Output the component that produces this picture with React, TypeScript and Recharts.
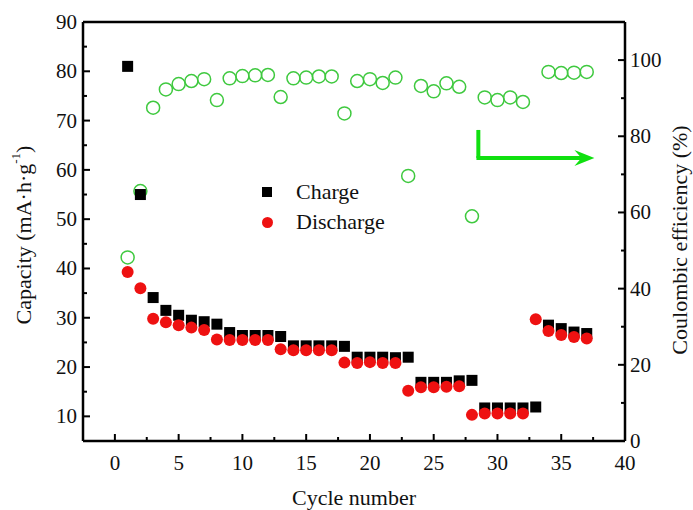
import React from 'react';
import {
  ScatterChart,
  Scatter,
  XAxis,
  YAxis,
  Label,
  ReferenceLine,
  ReferenceDot,
} from 'recharts';

const cycles = Array.from({ length: 37 }, (_, i) => i + 1);

const charge = [
  81, 55, 34.1, 31.5, 30.5, 29.5, 29.2, 28.7, 27, 26.4,
  26.4, 26.4, 26.2, 24.3, 24.3, 24.3, 24.3, 24.2, 22, 22,
  22, 21.9, 22, 16.9, 16.9, 16.9, 17.2, 17.3, 11.7, 11.7,
  11.7, 11.7, 11.9, 28.5, 27.8, 27.1, 26.8,
];

const discharge = [
  39.3, 36, 29.8, 29.1, 28.5, 28, 27.5, 25.6, 25.5, 25.5,
  25.5, 25.5, 23.6, 23.4, 23.4, 23.4, 23.4, 20.9, 20.8, 21,
  20.8, 20.8, 15.2, 15.9, 15.9, 16, 16.1, 10.3, 10.6, 10.6,
  10.6, 10.6, 29.7, 27.3, 26.5, 26.1, 25.8,
];

const efficiency: (number | null)[] = [
  48.2, 65.6, 87.5, 92.3, 93.7, 94.5, 95, 89.5, 95.2, 95.8,
  96, 96.1, 90.3, 95.2, 95.4, 95.7, 95.7, 86, 94.5, 95,
  94, 95.4, 69.6, 93.2, 91.8, 93.9, 93, 59, 90.2, 89.5,
  90.2, 89, null, 96.9, 96.6, 96.7, 96.9,
];

const xTicks = [0, 2.5, 5, 7.5, 10, 12.5, 15, 17.5, 20, 22.5, 25, 27.5, 30, 32.5, 35, 37.5, 40];
const leftTicks = [10, 15, 20, 25, 30, 35, 40, 45, 50, 55, 60, 65, 70, 75, 80, 85, 90];
const rightTicks = [0, 10, 20, 30, 40, 50, 60, 70, 80, 90, 100];

const chargeData = cycles.map((c, i) => ({ cycle: c, value: charge[i] }));
const dischargeData = cycles.map((c, i) => ({ cycle: c, value: discharge[i] }));
const efficiencyData = cycles
  .map((c, i) => ({ cycle: c, value: efficiency[i] }))
  .filter((d) => d.value !== null);

const FONT = "'Liberation Serif', 'Times New Roman', 'DejaVu Serif', serif";
const W = 693;
const H = 510;
const LEFT = 83;
const RIGHT = 625;
const TOP = 22;
const BOTTOM = 441;
const GREEN = '#3fc93f';
const ARROW = '#10e010';

const LeftTick = (props: any) => {
  const { y, payload } = props;
  const major = payload.value % 10 === 0;
  return (
    <g>
      <line x1={LEFT} x2={LEFT + (major ? 7 : 4)} y1={y} y2={y} stroke="#000" strokeWidth={2} />
      {major && (
        <text x={LEFT - 6} y={y} textAnchor="end" dominantBaseline="central" fontSize={21} fontFamily={FONT} fill="#111">
          {payload.value}
        </text>
      )}
    </g>
  );
};

const RightTick = (props: any) => {
  const { y, payload } = props;
  const major = payload.value % 20 === 0;
  return (
    <g>
      <line x1={RIGHT} x2={RIGHT - (major ? 7 : 4)} y1={y} y2={y} stroke="#000" strokeWidth={2} />
      {major && (
        <text x={RIGHT + 5} y={y} textAnchor="start" dominantBaseline="central" fontSize={21} fontFamily={FONT} fill="#111">
          {payload.value}
        </text>
      )}
    </g>
  );
};

const BottomTick = (props: any) => {
  const { x, payload } = props;
  const major = payload.value % 5 === 0;
  return (
    <g>
      <line x1={x} x2={x} y1={BOTTOM} y2={BOTTOM - (major ? 7 : 4)} stroke="#000" strokeWidth={2} />
      {major && (
        <text x={x} y={BOTTOM + 22} textAnchor="middle" dominantBaseline="central" fontSize={21} fontFamily={FONT} fill="#111">
          {payload.value}
        </text>
      )}
    </g>
  );
};

const SquareMark = (props: any) => (
  <rect x={props.cx - 5.5} y={props.cy - 5.5} width={11} height={11} fill="#000" />
);

const DotMark = (props: any) => <circle cx={props.cx} cy={props.cy} r={6} fill="#ee1111" />;

const RingMark = (props: any) => (
  <circle cx={props.cx} cy={props.cy} r={6.5} fill="none" stroke={GREEN} strokeWidth={1.5} />
);

const ArrowHead = (props: any) => {
  const { cx, cy } = props;
  return (
    <polygon
      points={`${cx},${cy} ${cx - 20},${cy - 8} ${cx - 13},${cy} ${cx - 20},${cy + 8}`}
      fill={ARROW}
    />
  );
};

const LegendBox = () => (
  <div
    style={{
      position: 'absolute',
      left: 262,
      top: 177,
      fontFamily: FONT,
      fontSize: 22,
      color: '#111',
      lineHeight: '30px',
    }}
  >
    <div style={{ display: 'flex', alignItems: 'center' }}>
      <span style={{ width: 10, height: 10, background: '#000', display: 'inline-block', marginRight: 24 }} />
      Charge
    </div>
    <div style={{ display: 'flex', alignItems: 'center' }}>
      <span style={{ width: 11, height: 11, borderRadius: '50%', background: '#ee1111', display: 'inline-block', marginRight: 23 }} />
      Discharge
    </div>
  </div>
);

export default function App() {
  return (
    <div style={{ position: 'absolute', left: 0, top: 0, width: W, height: H, background: '#fff' }}>
      <ScatterChart width={W} height={H} margin={{ top: TOP, right: 0, bottom: 0, left: 0 }}>
        <XAxis
          type="number"
          dataKey="cycle"
          domain={[-2.5, 40]}
          ticks={xTicks}
          interval={0}
          height={H - BOTTOM}
          axisLine={{ stroke: '#000', strokeWidth: 2.5 }}
          tickLine={false}
          tick={<BottomTick />}
          allowDataOverflow
        >
          <Label
            content={() => (
              <text x={(LEFT + RIGHT) / 2} y={497} textAnchor="middle" dominantBaseline="central" fontSize={22} fontFamily={FONT} fill="#111">
                Cycle number
              </text>
            )}
          />
        </XAxis>
        <YAxis
          yAxisId="cap"
          type="number"
          dataKey="value"
          domain={[5, 90]}
          ticks={leftTicks}
          interval={0}
          width={LEFT}
          axisLine={{ stroke: '#000', strokeWidth: 2.5 }}
          tickLine={false}
          tick={<LeftTick />}
          allowDataOverflow
        >
          <Label
            content={() => (
              <text
                x={23}
                y={235}
                transform="rotate(-90, 23, 235)"
                textAnchor="middle"
                dominantBaseline="central"
                fontSize={22}
                fontFamily={FONT}
                fill="#111"
              >
                Capacity (mA·h·g
                <tspan dy={-8} fontSize={13}>-1</tspan>
                <tspan dy={8}>)</tspan>
              </text>
            )}
          />
        </YAxis>
        <YAxis
          yAxisId="ce"
          orientation="right"
          type="number"
          dataKey="value"
          domain={[0, 110]}
          ticks={rightTicks}
          interval={0}
          width={W - RIGHT}
          axisLine={{ stroke: '#000', strokeWidth: 2.5 }}
          tickLine={false}
          tick={<RightTick />}
          allowDataOverflow
        >
          <Label
            content={() => (
              <text
                x={679}
                y={240}
                transform="rotate(-90, 679, 240)"
                textAnchor="middle"
                dominantBaseline="central"
                fontSize={22}
                fontFamily={FONT}
                fill="#111"
              >
                Coulombic efficiency (%)
              </text>
            )}
          />
        </YAxis>

        <ReferenceLine yAxisId="cap" y={90} stroke="#000" strokeWidth={2.5} />

        <ReferenceLine
          yAxisId="cap"
          segment={[{ x: 28.5, y: 68.1 }, { x: 28.5, y: 62.4 }]}
          stroke={ARROW}
          strokeWidth={4}
        />
        <ReferenceLine
          yAxisId="cap"
          segment={[{ x: 28.35, y: 62.4 }, { x: 37.1, y: 62.4 }]}
          stroke={ARROW}
          strokeWidth={4}
        />
        <ReferenceDot yAxisId="cap" x={37.6} y={62.4} shape={<ArrowHead />} />

        <Scatter yAxisId="ce" name="Efficiency" data={efficiencyData} shape={<RingMark />} isAnimationActive={false} />
        <Scatter yAxisId="cap" name="Charge" data={chargeData} shape={<SquareMark />} isAnimationActive={false} />
        <Scatter yAxisId="cap" name="Discharge" data={dischargeData} shape={<DotMark />} isAnimationActive={false} />
      </ScatterChart>
      <LegendBox />
    </div>
  );
}
